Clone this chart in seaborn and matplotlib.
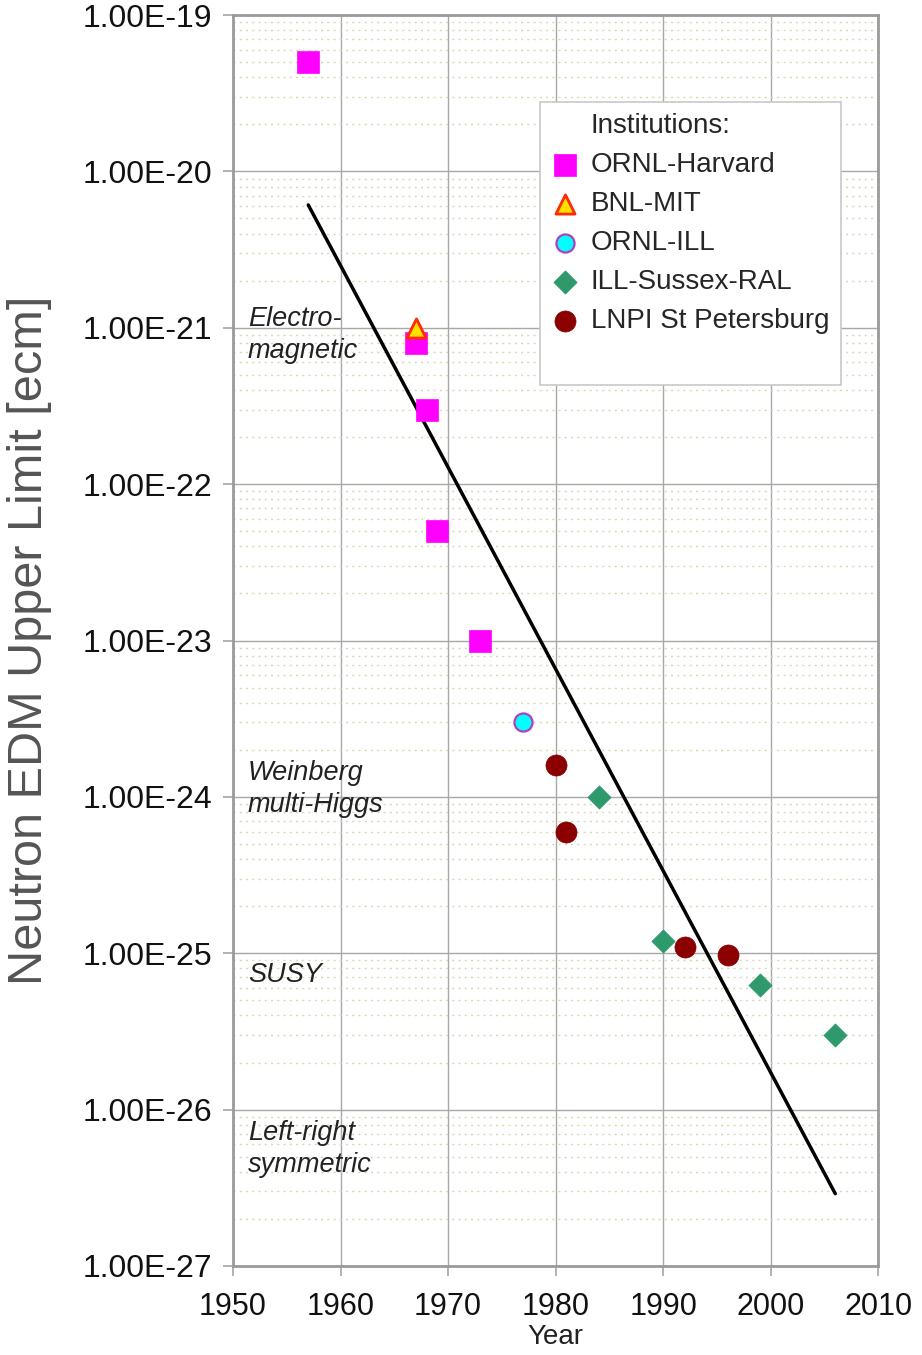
import numpy as np
import pandas as pd
import matplotlib
matplotlib.use("Agg")
import matplotlib.pyplot as plt
import matplotlib.ticker as mticker
from matplotlib.lines import Line2D
import seaborn as sns

sns.set_theme(style="white")
plt.rcParams['font.family'] = ['Liberation Sans', 'DejaVu Sans']

# ---- data ----
ornl_harvard_year = [1957, 1967, 1968, 1969, 1973]
ornl_harvard_edm = [5e-20, 8e-22, 3e-22, 5e-23, 1e-23]
bnl_mit_year = [1967]
bnl_mit_edm = [1e-21]
ornl_ill_year = [1977]
ornl_ill_edm = [3e-24]
ill_sussex_year = [1984, 1990, 1999, 2006]
ill_sussex_edm = [1e-24, 1.2e-25, 6.3e-26, 3e-26]
lnpi_year = [1980, 1981, 1992, 1996]
lnpi_edm = [1.6e-24, 6e-25, 1.1e-25, 0.97e-25]
trend_year = [1957, 2006]
trend_edm = [6.1e-21, 2.9e-27]

y_ticks = [1e-27, 1e-26, 1e-25, 1e-24, 1e-23, 1e-22, 1e-21, 1e-20, 1e-19]
x_ticks = [1950, 1960, 1970, 1980, 1990, 2000, 2010]

regions = ["Electro-\nmagnetic", "Weinberg\nmulti-Higgs", "SUSY", "Left-right\nsymmetric"]
region_y = [9e-22, 1.12e-24, 7.3e-26, 5.6e-27]

fig = plt.figure(figsize=(9.22, 13.55), dpi=100)
ax = fig.add_axes([0.2527, 0.0657, 0.6999, 0.9232])
ax.set_yscale("log")
ax.set_xlim(1950, 2010)
ax.set_ylim(1e-27, 1e-19)

# grid
ax.yaxis.set_minor_locator(mticker.LogLocator(base=10, subs=np.arange(2, 10)))
ax.grid(which="major", color="#a8a8a8", linewidth=1.0, linestyle="-")
ax.grid(which="minor", axis="y", color="#d8d8b4", linewidth=1.0, linestyle=(0, (1.5, 3)))
ax.set_axisbelow(True)

# trend line
sns.lineplot(x=trend_year, y=trend_edm, ax=ax, color="black", linewidth=2.5, zorder=3)

series = [
    ("ORNL-Harvard", ornl_harvard_year, ornl_harvard_edm, "s", "#ff00ff", "#ff00ff", 230, 0.5),
    ("BNL-MIT", bnl_mit_year, bnl_mit_edm, "^", "#ffe000", "#ff2a00", 190, 2.0),
    ("ORNL-ILL", ornl_ill_year, ornl_ill_edm, "o", "#00ffff", "#b040c0", 170, 1.6),
    ("ILL-Sussex-RAL", ill_sussex_year, ill_sussex_edm, "D", "#2e9a6c", "#2e9a6c", 140, 0.5),
    ("LNPI St Petersburg", lnpi_year, lnpi_edm, "o", "#8b0000", "#8b0000", 230, 0.5),
]
for name, xs, ys, m, fc, ec, s, lw in series:
    sns.scatterplot(x=xs, y=ys, ax=ax, marker=m, color=fc, edgecolor=ec,
                    s=s, linewidth=lw, label=name, zorder=4)

for t, yv in zip(regions, region_y):
    ax.text(1951.4, yv, t, fontsize=19.5, style="italic", color="#222222",
            va="center", ha="left", linespacing=1.3, zorder=5)

ax.set_yticks(y_ticks)
ax.yaxis.set_major_formatter(mticker.FuncFormatter(
    lambda v, p: "1.00E%03d" % int(round(np.log10(v))) if v > 0 else ""))
ax.yaxis.set_minor_formatter(mticker.NullFormatter())
ax.set_xticks(x_ticks)
ax.tick_params(axis="both", which="major", labelsize=23, length=7, color="#a8a8a8",
               labelcolor="#111111", direction="out", left=True, bottom=True)
ax.tick_params(axis="x", which="major", pad=12, labelsize=22)
ax.tick_params(axis="y", which="major", pad=8)
ax.tick_params(axis="y", which="minor", length=0)

for sp in ax.spines.values():
    sp.set_color("#9a9a9a")
    sp.set_linewidth(2.0)

ax.set_ylabel("Neutron EDM Upper Limit [ecm]", fontsize=35, color="#555555")
ax.yaxis.set_label_coords(-0.280, 0.5)
ax.set_xlabel("Year", fontsize=20, color="#222222")
ax.xaxis.set_label_coords(0.5, -0.0466)

# legend: title row aligned with labels, blank row at bottom
handles, labels = ax.get_legend_handles_labels()
blank = Line2D([], [], linestyle="none", marker=None)
handles = [blank] + handles + [blank]
labels = ["Institutions:"] + labels + [" "]
leg = ax.legend(handles, labels, loc="upper left", bbox_to_anchor=(0.475, 0.9305),
                fontsize=20, frameon=True, fancybox=False,
                edgecolor="#c8c8c8", borderpad=0.4, labelspacing=0.47,
                handletextpad=0.45, handlelength=1.0, borderaxespad=0)
leg.get_frame().set_linewidth(1.2)
leg.get_frame().set_facecolor("white")
leg.get_frame().set_alpha(1)

fig.savefig("out.png", dpi=100)
